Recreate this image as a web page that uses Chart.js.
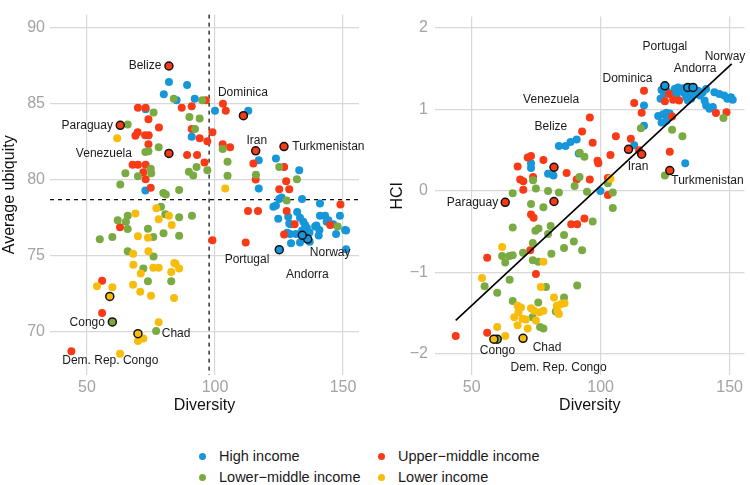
<!DOCTYPE html>
<html lang="en">
<head>
<meta charset="UTF-8">
<title>Diversity vs ubiquity and HCI</title>
<script src="https://cdn.jsdelivr.net/npm/chart.js"></script>
<style>
    body { margin: 0; background: #fff; font-family: "Liberation Sans", Arial, sans-serif; }
    #wrap { position: relative; width: 750px; height: 485px; overflow: hidden; }
    #left { position: absolute; left: 0; top: 0; }
    #right { position: absolute; left: 375px; top: 0; }
    .key { position: absolute; font-size: 14.5px; color: #1a1a1a; line-height: 18px; white-space: nowrap; }
    .key span { position: absolute; width: 7px; height: 7px; border-radius: 50%; left: -20px; top: 6px; }
</style>
</head>
<body>
<div id="wrap">
    <canvas id="left" width="375" height="420"></canvas>
    <canvas id="right" width="375" height="420"></canvas>
    <div id="legend"></div>
</div>

<script>
    // income groups, legend order
    const groups = ['High income', 'Upper\u2212middle income', 'Lower\u2212middle income', 'Lower income'];
    const groupColors = ['#1796da', '#f83a16', '#79ab42', '#f8bd0c'];

    // ---- left panel: Diversity vs Average ubiquity ----
    const leftHigh = [[82.0,86.4],[89.1,86.2],[80.0,85.6],[85.0,85.2],[92.1,85.3],[100,84.5],[113.0,84.5],[72.9,84.6],[90.9,82.8],
        [117.1,81.25],[123.8,81.36],[132.9,80.6],[117.1,79.4],[72.8,79.26],[123.8,78.28],[125.1,78.7],[126.0,78.8],[134.0,78.7],
        [141.0,78.4],[124.7,77.4],[128.6,77.54],[132.1,77.85],[133.2,77.47],[134.5,77.2],[141.0,77.6],[143.0,77.6],[144.3,77.3],
        [148.8,77.6],[146.2,77.05],[151.2,76.64],[147.3,76.4],[129.5,77.05],[134.0,76.64],[135.9,76.8],[136.9,76.5],[139.1,76.9],
        [140.8,76.66],[140.5,76.3],[128.2,76.48],[129.7,75.8],[137.0,75.9],[151.2,75.4],[122.8,78.2],[129.0,77.1],[135.2,77.0],
        [139.6,76.96],[143.6,77.2],[150.8,76.66],[129.3,76.4],[131.6,76.4],[133.2,75.84]];
    const leftUpper = [[96.4,85.2],[103.1,84.97],[104.2,84.5],[69.9,84.7],[72.9,84.7],[87.0,84.7],[90.9,84.8],[74.0,83.95],
        [78.1,83.4],[69.8,83.1],[68.9,82.87],[72.7,82.9],[74.1,82.9],[90.9,83.3],[94.0,82.7],[99.0,83.1],[97.0,82.5],[74.0,82.3],
        [89.1,81.6],[93.0,81.6],[103.0,82.3],[105.9,82.1],[115.0,81.04],[127.0,80.8],[127.8,79.87],[95.9,81.1],[67.8,80.96],
        [69.9,80.96],[72.9,80.96],[72.0,80.47],[72.9,80.0],[115.9,79.98],[74.9,79.45],[125.1,79.34],[129.0,79.34],[149.0,78.34],
        [112.9,77.92],[116.8,77.92],[128.0,77.92],[145.0,76.99],[131.1,77.05],[127.0,76.37],[99.0,75.99],[112.0,75.84],
        [62.9,76.84],[55.9,73.33],[55.9,71.2],[43.9,68.7]];
    const leftLowerMid = [[83.9,85.3],[95.0,85.2],[76.0,84.4],[90.0,84.1],[94.0,84.0],[65.9,83.6],[92.2,83.3],[78.0,82.1],
        [72.8,81.8],[74.0,81.85],[103.0,82.0],[104.9,81.15],[125.1,80.8],[132.0,80.0],[74.9,80.7],[75.1,80.4],[69.9,80.2],
        [65.0,80.4],[63.0,79.66],[89.8,80.5],[92.8,80.8],[97.0,80.6],[91.5,80.25],[104.9,80.24],[116.0,80.3],[86.0,79.3],
        [79.8,79.1],[80.8,79.0],[128.0,78.6],[147.9,76.9],[78.9,78.2],[62.0,77.3],[65.9,77.6],[65.2,77.2],[65.9,76.73],
        [55.0,76.05],[59.9,76.2],[80.6,77.7],[86.0,77.5],[91.0,77.6],[73.8,76.75],[79.9,76.45],[75.9,76.2],[86.0,76.29],
        [65.9,75.27],[76.0,74.93],[72.0,74.14],[73.8,73.3],[82.9,73.3],[77.0,70.02]];
    const leftLow = [[61.8,82.7],[104.0,79.4],[77.1,78.1],[68.9,77.75],[78.0,77.37],[82.0,77.6],[83.1,77.0],[69.9,76.26],
        [73.8,76.16],[68.0,75.1],[74.0,75.27],[68.1,74.38],[71.0,73.8],[75.9,74.18],[78.0,74.18],[84.1,74.5],[84.6,74.44],
        [86.0,74.14],[82.9,73.9],[68.0,73.06],[70.8,72.6],[75.0,72.34],[84.0,72.2],[53.9,72.97],[59.9,72.9],[78.0,70.6],
        [69.9,69.36],[72.0,69.53],[62.9,68.52]];
    // highlighted countries: [diversity, value, group index]
    const leftMarked = [[82.0,87.45,1],[111.1,84.18,1],[63.0,83.55,1],[82.0,81.7,1],[115.9,81.87,1],[126.95,82.15,1],
        [136.2,76.07,0],[134.1,76.32,0],[125.1,75.37,0],[59.9,70.62,2],[58.9,72.3,3],[69.9,69.85,3]];
    const leftLabelText = ['Belize','Dominica','Paraguay','Venezuela','Iran','Turkmenistan','Portugal','Andorra','Norway','Congo','Chad','Dem. Rep. Congo'];
    const leftLabelX = [72.66,110.9,50.1,56.6,116.3,144.3,112.5,136.1,145.0,50.1,84.8,59.1];
    const leftLabelY = [87.45,85.71,83.52,81.68,82.57,82.15,74.71,73.71,75.18,70.59,69.85,68.09];
    const leftMeanDiversity = 97.7;
    const leftMeanUbiquity = 78.66;

    // ---- right panel: Diversity vs HCI ----
    const rightHigh = [[125.5,1.23],[128.7,1.25],[130.6,1.23],[131.9,1.26],[137.7,1.23],[139.6,1.21],[140.9,1.25],[144.1,1.21],
        [146.0,1.19],[147.9,1.17],[150.5,1.15],[151.2,1.12],[149.1,1.13],[140.3,1.11],[140.9,1.05],[142.2,1.01],[143.5,1.03],
        [123.2,1.13],[122.3,0.92],[124.2,0.94],[125.5,0.96],[126.8,0.95],[125.5,0.86],[123.6,0.84],[132.8,0.34],[116.8,1.05],
        [116.8,0.80],[113.0,0.56],[99.9,0.0],[83.8,0.55],[86.4,0.55],[88.3,0.60],[90.7,0.63],[91.5,0.46],[79.6,0.21],[81.7,0.19],
        [73.0,0.34],[73.0,0.28],[123.6,1.24],[124.6,1.19],[133.2,1.15],[135.1,1.13],[133.8,1.11],[127.5,1.2],[129.5,1.18],
        [132.5,1.2],[134.5,1.22],[136.5,1.2],[138.5,1.17],[130.0,1.27]];
    const rightUpper = [[144.7,0.955],[148.8,0.967],[126.5,1.19],[124.9,1.10],[128.1,1.12],[130.4,1.11],[127.7,0.915],[126.8,0.48],
        [116.8,1.23],[113.0,1.08],[115.9,0.96],[105.9,0.67],[111.7,0.64],[114.9,0.50],[103.8,0.44],[98.8,0.37],[99.1,0.34],
        [102.8,0.16],[95.8,0.90],[92.8,0.73],[96.9,0.59],[86.8,0.22],[90.7,0.14],[95.8,0.14],[77.8,0.38],[67.8,0.30],[71.7,0.41],
        [73.0,0.43],[68.8,0.14],[70.0,0.12],[73.8,0.17],[70.0,0.015],[102.8,-0.05],[73.0,-0.29],[74.0,-0.33],[88.6,-0.41],
        [90.9,-0.41],[93.7,-0.34],[72.7,-0.73],[56.0,-0.82],[74.9,-1.02],[56.0,-1.74],[43.8,-1.78]];
    const rightLowerMid = [[147.6,0.896],[127.7,0.75],[131.7,0.67],[124.9,0.19],[115.6,0.77],[102.8,0.095],[104.7,-0.02],
        [91.9,0.47],[93.7,0.42],[91.8,0.17],[89.9,0.06],[94.7,-0.01],[79.6,0.0],[83.8,-0.02],[73.8,0.13],[74.9,0.03],[65.9,-0.03],
        [104.7,-0.21],[73.0,-0.16],[77.8,-0.20],[65.9,-0.45],[74.7,-0.49],[75.9,-0.46],[80.6,-0.43],[79.6,-0.53],[96.9,-0.375],
        [85.8,-0.54],[89.6,-0.62],[85.8,-0.70],[92.8,-0.73],[73.7,-0.64],[69.9,-0.76],[80.9,-0.77],[61.8,-0.80],[64.6,-0.80],
        [65.9,-0.79],[63.0,-0.88],[73.7,-0.85],[75.8,-0.87],[55.0,-1.17],[64.7,-1.09],[59.9,-1.25],[78.8,-1.18],[90.9,-1.16],
        [85.8,-1.31],[82.6,-1.48],[65.9,-1.35],[75.8,-1.37],[73.6,-1.55],[76.5,-1.67],[77.8,-1.69]];
    const rightLow = [[103.8,0.15],[61.8,-0.69],[77.8,-0.87],[54.0,-1.07],[76.8,-1.18],[81.9,-1.31],[83.0,-1.41],[84.5,-1.39],
        [86.0,-1.38],[83.2,-1.47],[83.8,-1.51],[67.8,-1.41],[69.1,-1.43],[73.0,-1.44],[74.2,-1.47],[76.3,-1.49],[77.8,-1.47],
        [68.1,-1.49],[66.5,-1.55],[69.7,-1.57],[71.0,-1.58],[74.9,-1.59],[67.8,-1.65],[71.7,-1.69],[59.9,-1.67],[63.0,-1.78]];
    const rightMarked = [[110.8,0.51,1],[115.9,0.45,1],[126.8,0.25,1],[81.9,0.29,1],[63.0,-0.14,1],[81.9,-0.13,1],
        [124.9,1.29,0],[133.8,1.27,0],[135.8,1.27,0],[59.9,-1.82,2],[58.6,-1.82,3],[69.9,-1.81,3]];
    const rightLabelText = ['Portugal','Norway','Andorra','Dominica','Venezuela','Belize','Iran','Turkmenistan','Paraguay','Congo','Chad','Dem. Rep. Congo'];
    const rightLabelX = [124.9,148.2,136.6,110.4,80.8,80.7,114.5,141.4,50.3,60.0,79.2,83.7];
    const rightLabelY = [1.77,1.65,1.50,1.38,1.12,0.79,0.30,0.13,-0.15,-1.96,-1.93,-2.17];
    const fitX = [43.8, 150.8];
    const fitY = [-1.59, 1.56];

    // axis ticks
    const diversityTicks = [50, 100, 150];
    const ubiquityTicks = [70, 75, 80, 85, 90];
    const hciTicks = [-2, -1, 0, 1, 2];

    Chart.defaults.font.family = '"Liberation Sans", Arial, sans-serif';
    Chart.defaults.animation = false;

    const toPts = arr => arr.map(p => ({x: p[0], y: p[1]}));

    // reference lines under the points, country names over them
    const extras = {
        id: 'extras',
        beforeDatasetsDraw(chart, args, opts) {
            const {ctx, chartArea, scales: {x, y}} = chart;
            ctx.save();
            ctx.strokeStyle = '#000';
            ctx.lineWidth = 1.2;
            ctx.setLineDash([4, 4]);
            if (opts.vline != null) {
                const px = x.getPixelForValue(opts.vline);
                ctx.beginPath(); ctx.moveTo(px, chartArea.top); ctx.lineTo(px, chartArea.bottom); ctx.stroke();
            }
            if (opts.hline != null) {
                const py = y.getPixelForValue(opts.hline);
                ctx.beginPath(); ctx.moveTo(chartArea.left, py); ctx.lineTo(chartArea.right, py); ctx.stroke();
            }
            ctx.restore();
        },
        afterDatasetsDraw(chart, args, opts) {
            if (!opts.text) return;
            const {ctx, scales: {x, y}} = chart;
            ctx.save();
            ctx.font = '12px "Liberation Sans", Arial, sans-serif';
            ctx.fillStyle = '#1a1a1a';
            ctx.textAlign = 'center';
            ctx.textBaseline = 'middle';
            opts.text.forEach((t, i) => {
                ctx.fillText(t, x.getPixelForValue(opts.lx[i]), y.getPixelForValue(opts.ly[i]));
            });
            ctx.restore();
        }
    };

    function groupSets(lists, marked) {
        const sets = [{
            label: 'marked',
            data: marked.map(p => ({x: p[0], y: p[1]})),
            backgroundColor: marked.map(p => groupColors[p[2]]),
            borderColor: '#111',
            borderWidth: 1.5,
            pointRadius: 4
        }];
        // index 0 is drawn on top, so lower income first, high income last
        for (let g = 3; g >= 0; g--) {
            sets.push({
                label: groups[g],
                data: toPts(lists[g]),
                backgroundColor: groupColors[g],
                borderWidth: 0,
                pointRadius: 4
            });
        }
        return sets;
    }

    function minus(v) {
        return v < 0 ? '\u2212' + Math.abs(v) : String(v);
    }

    function panel(id, cfg) {
        return new Chart(document.getElementById(id), {
            type: 'scatter',
            data: {datasets: cfg.datasets},
            options: {
                responsive: false,
                devicePixelRatio: 1,
                layout: {padding: {left: 0, right: cfg.padRight, top: 3, bottom: 0}},
                plugins: {
                    legend: {display: false},
                    tooltip: {enabled: false},
                    extras: cfg.extras
                },
                scales: {
                    x: {
                        min: cfg.xMin, max: cfg.xMax,
                        afterBuildTicks: s => { s.ticks = diversityTicks.map(v => ({value: v})); },
                        afterFit: s => { s.height = 45; },
                        grid: {color: '#d8d8d8', lineWidth: 1.2, drawTicks: false},
                        border: {display: false},
                        ticks: {color: '#a3a3a3', font: {size: 16}, padding: 3, maxRotation: 0},
                        title: {display: true, text: 'Diversity', color: '#111', font: {size: 16}, padding: {top: 0, bottom: 5}}
                    },
                    y: {
                        min: cfg.yMin, max: cfg.yMax,
                        afterBuildTicks: s => { s.ticks = cfg.yTicks.map(v => ({value: v})); },
                        afterFit: s => { s.width = cfg.yWidth; },
                        grid: {color: '#d8d8d8', lineWidth: 1.2, drawTicks: false},
                        border: {display: false},
                        ticks: {color: '#a3a3a3', font: {size: 16}, padding: cfg.tickPad, callback: v => minus(v)},
                        title: {display: true, text: cfg.yTitle, color: '#111', font: {size: 16}, padding: {top: cfg.titlePad, bottom: 0}}
                    }
                }
            },
            plugins: [extras]
        });
    }

    panel('left', {
        datasets: groupSets([leftHigh, leftUpper, leftLowerMid, leftLow], leftMarked),
        padRight: 16, xMin: 35.55, xMax: 156.25, yMin: 67.13, yMax: 90.83,
        yTicks: ubiquityTicks, yWidth: 50, tickPad: 5, yTitle: 'Average ubiquity', titlePad: 0,
        extras: {vline: leftMeanDiversity, hline: leftMeanUbiquity, text: leftLabelText, lx: leftLabelX, ly: leftLabelY}
    });

    const rightSets = groupSets([rightHigh, rightUpper, rightLowerMid, rightLow], rightMarked);
    rightSets.splice(1, 0, {
        label: 'fit',
        data: fitX.map((x, i) => ({x: x, y: fitY[i]})),
        showLine: true,
        borderColor: '#000',
        borderWidth: 1.6,
        pointRadius: 0
    });
    panel('right', {
        datasets: rightSets,
        padRight: 3, xMin: 35.77, xMax: 155.77, yMin: -2.26, yMax: 2.14,
        yTicks: hciTicks, yWidth: 60, tickPad: 7, yTitle: 'HCI', titlePad: 13,
        extras: {text: rightLabelText, lx: rightLabelX, ly: rightLabelY}
    });

    // legend, two columns
    const legendPos = [[219, 447], [398, 447], [219, 468], [398, 468]];
    const legend = document.getElementById('legend');
    groups.forEach((g, i) => {
        const d = document.createElement('div');
        d.className = 'key';
        d.style.left = legendPos[i][0] + 'px';
        d.style.top = legendPos[i][1] + 'px';
        d.innerHTML = '<span style="background:' + groupColors[i] + '"></span>' + g;
        legend.appendChild(d);
    });
</script>
</body>
</html>
